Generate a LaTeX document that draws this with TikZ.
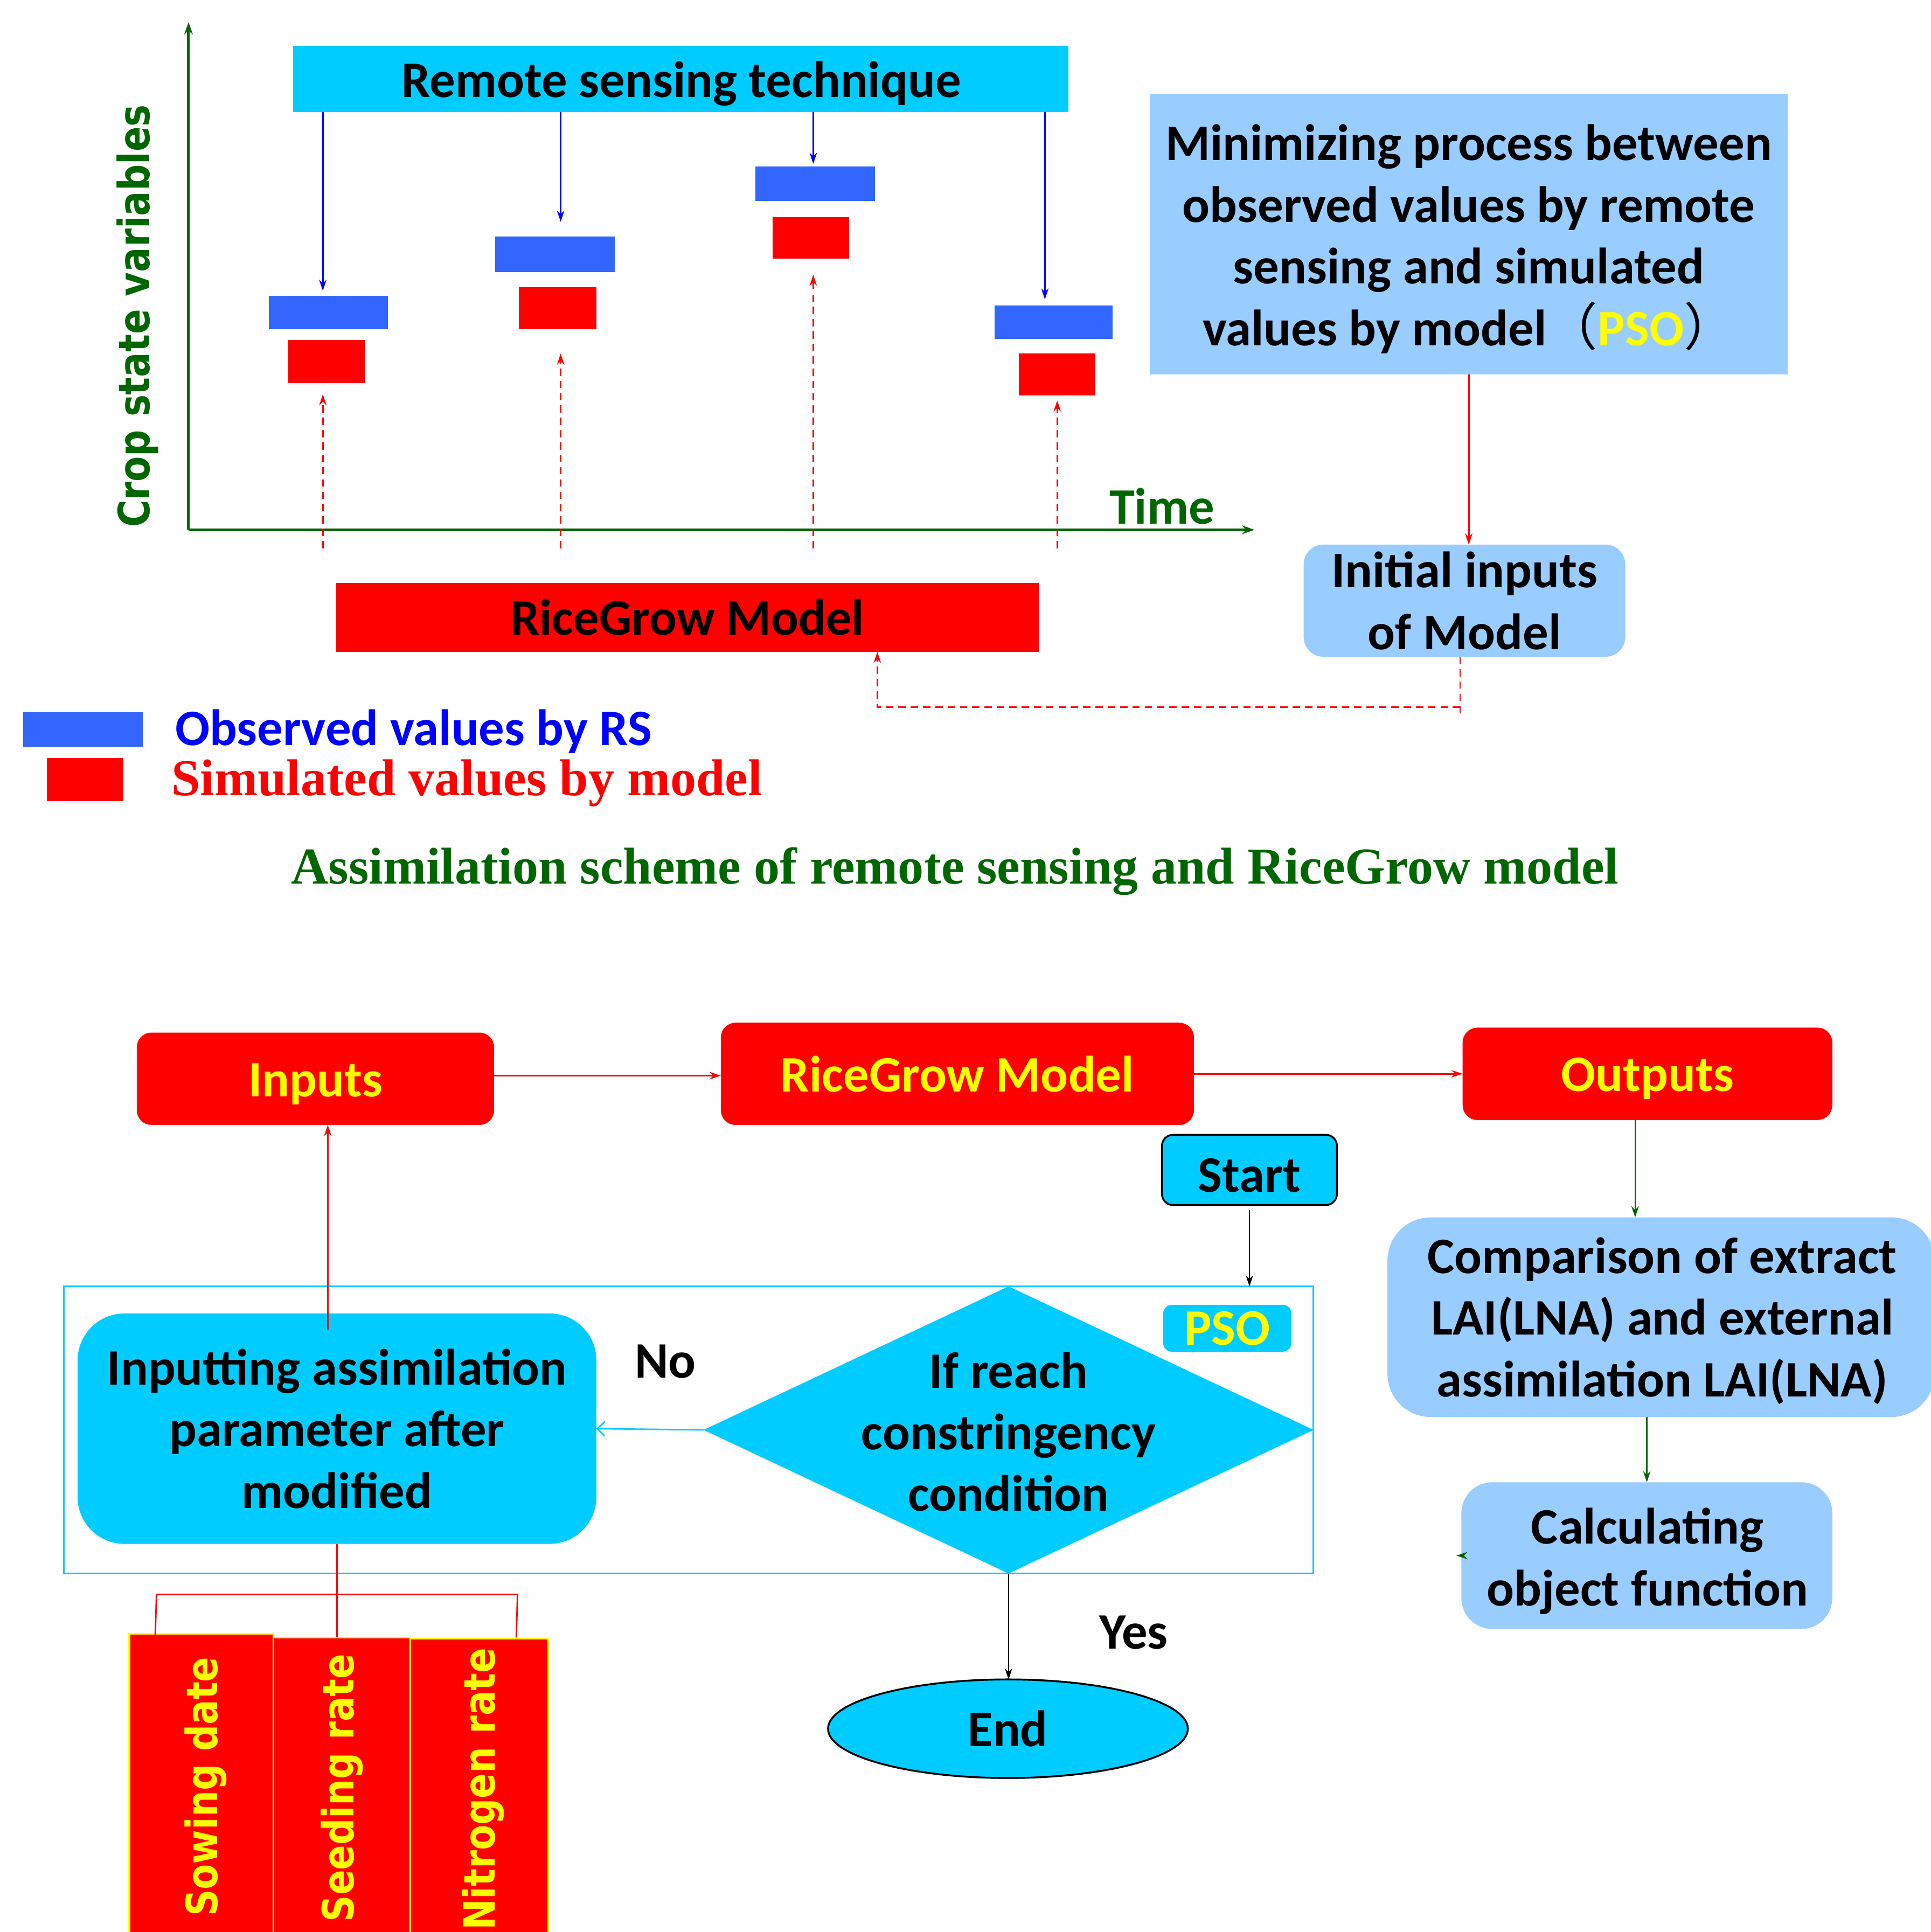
\documentclass[tikz,border=0pt]{standalone}
\usepackage{fontspec}
\setmainfont{Carlito}
\newfontfamily\dvfont{DejaVu Sans}[FakeStretch=0.86]
\newfontfamily\tmsfont{Liberation Serif}
\newfontfamily\cjkfont{Noto Sans CJK SC}
\usetikzlibrary{arrows.meta,shapes.geometric,calc}
\definecolor{cyanA}{RGB}{0,204,255}
\definecolor{lblue}{RGB}{153,204,255}
\definecolor{obsblue}{RGB}{51,102,255}
\definecolor{dgreen}{RGB}{0,102,0}
\definecolor{ylw}{RGB}{255,255,0}
\begin{document}
\begin{tikzpicture}[x=1pt,y=-1pt,
  cal/.style={font=\fontsize{41.5}{50}\selectfont\bfseries},
  bare/.style={inner sep=0pt,outer sep=0pt},
  txt/.style={cal,align=center},
  obs/.style={bare,fill=obsblue},
  sim/.style={bare,fill=red},
  lbbox/.style={bare,fill=lblue,cal,align=center},
  redbox/.style={bare,fill=red,rounded corners=12pt,cal,text=ylw},
  cybox/.style={bare,fill=cyanA,cal,align=center},
  arr/.style={-{Stealth[length=9pt,width=6pt]}},
  conn/.style={line width=1.2pt},
  dashconn/.style={line width=1.2pt,dash pattern=on 6pt off 4pt},
  axisline/.style={dgreen,line width=2.2pt,-{Stealth[length=10pt,width=7pt]}},
  dvtext/.style={rotate=90,font=\dvfont\fontsize{35}{40}\selectfont\bfseries},
  vlabel/.style={dvtext,text=ylw},
  parambox/.style={bare,fill=red,draw=ylw,line width=1.5pt},
  tmstext/.style={font=\tmsfont\fontsize{42}{50}\selectfont\bfseries}
]
\clip (0,0) rectangle (1567,1568);
\fill[white] (0,0) rectangle (1567,1568);

% ---------- top: axes ----------
\coordinate (O) at (153,430);
\coordinate (ytop) at (153,18);
\coordinate (xend) at (1018,430);
\draw[axisline] (O) -- (ytop);
\draw[axisline] (O) -- (xend);
\node[dvtext,text=dgreen] (ylab) at (111.5,256.5) {Crop state variables};
\node[cal,text=dgreen] (time) at (943,411) {Time};

\node[bare,fill=cyanA,minimum width=629pt,minimum height=54pt] (rs) at (552.5,64) {};
\node[txt] (rst) at (553,68) {Remote sensing technique};

% observed (blue) and simulated (red) rectangles
\node[obs,minimum width=97pt,minimum height=27pt] (b1) at (266.5,253.5) {};
\node[obs,minimum width=97pt,minimum height=29pt] (b2) at (450.5,206.5) {};
\node[obs,minimum width=97pt,minimum height=28pt] (b3) at (661.5,149) {};
\node[obs,minimum width=96pt,minimum height=27pt] (b4) at (855,261.5) {};
\node[sim,minimum width=62pt,minimum height=35pt] (r1) at (265,293.5) {};
\node[sim,minimum width=63pt,minimum height=34pt] (r2) at (452.5,250) {};
\node[sim,minimum width=62pt,minimum height=34pt] (r3) at (658,193) {};
\node[sim,minimum width=62pt,minimum height=34pt] (r4) at (858,304) {};

\coordinate (t1) at (262,0);
\coordinate (t2) at (455,0);
\coordinate (t3) at (660,0);
\coordinate (t4) at (848,0);
\draw[blue,conn,arr,shorten >=4pt] (rs.south -| t1) -- (b1.north -| t1);
\draw[blue,conn,arr,shorten >=12pt] (rs.south -| t2) -- (b2.north -| t2);
\draw[blue,conn,arr,shorten >=2pt] (rs.south -| t3) -- (b3.north -| t3);
\draw[blue,conn,arr,shorten >=5pt] (rs.south -| t4) -- (b4.north -| t4);

\coordinate (d1) at (262,445);
\coordinate (d2) at (455,445);
\coordinate (d3) at (660,445);
\coordinate (d4) at (858,445);
\draw[red,dashconn,arr,shorten >=9pt] (d1) -- (r1.south -| d1);
\draw[red,dashconn,arr,shorten >=20pt] (d2) -- (r2.south -| d2);
\draw[red,dashconn,arr,shorten >=13pt] (d3) -- (r3.south -| d3);
\draw[red,dashconn,arr,shorten >=4pt] (d4) -- (r4.south -| d4);

% minimizing box and initial inputs
\node[bare,fill=lblue,minimum width=518pt,minimum height=228pt] (mini) at (1192,190) {};
\node[txt] (minit) at (1192,194)
  {Minimizing process between\\observed values by remote\\sensing and simulated\\values by model{\cjkfont\mdseries （}{\color{ylw}PSO}{\cjkfont\mdseries ）}};
\node[lbbox,rounded corners=16pt,minimum width=261pt,minimum height=91pt] (init) at (1188.5,487.5) {Initial inputs\\of Model};
\draw[red,conn,arr] (mini.south) -- (mini.south |- init.north);

\node[bare,fill=red,cal,minimum width=570pt,minimum height=56pt] (rgtop) at (558,501) {RiceGrow Model};

\coordinate (fb1) at (1185,582);
\coordinate (fbc) at (1185,574);
\coordinate (fbl) at (712,574);
\draw[red,dashconn] (init.south -| fb1) -- (fb1);
\draw[red,dashconn,arr] (fbc) -- (fbl) -- (rgtop.south -| fbl);

% legend and title
\node[obs,minimum width=97pt,minimum height=28pt] (legb) at (67.5,592) {};
\node[sim,minimum width=62pt,minimum height=35pt] (legr) at (69,632.5) {};
\node[cal,text=blue,anchor=west,inner sep=0pt,text height=29pt,text depth=5pt] (legbt) at (142,593) {Observed values by RS};
\node[tmstext,text=red,anchor=west,inner sep=0pt,text height=28.5pt,text depth=5pt] (legrt) at (139,634) {Simulated values by model};
\node[tmstext,text=dgreen] (title) at (775,707) {Assimilation scheme of remote sensing and RiceGrow model};

% ---------- bottom flowchart ----------
\node[redbox,minimum width=290pt,minimum height=75pt] (inputs) at (256,875.5) {};
\node[txt,text=ylw] (inputst) at (256,880) {Inputs};
\node[redbox,minimum width=384pt,minimum height=83pt] (rgm) at (777,871.5) {RiceGrow Model};
\node[redbox,minimum width=300pt,minimum height=75pt] (outputs) at (1337,871.5) {};
\node[txt,text=ylw] (outputst) at (1337,875.5) {Outputs};
\coordinate (ly) at (0,873);
\draw[red,conn,arr] (inputs.east |- ly) -- (rgm.west |- ly);
\draw[red,conn,arr] (rgm.east) -- (outputs.west);

\node[bare,fill=cyanA,draw=black,line width=1.5pt,rounded corners=9pt,minimum width=142pt,minimum height=57pt] (start) at (1014,949.5) {};
\node[txt] (startt) at (1014,954) {Start};
\node[bare,draw=cyanA,line width=1.3pt,minimum width=1014pt,minimum height=233pt] (frame) at (559,1160.5) {};
\draw[black,conn,arr,shorten <=4pt] (start.south) -- (start.south |- frame.north);

\node[bare,diamond,fill=cyanA,minimum width=495pt,minimum height=233pt] (dia) at (818.5,1160.5) {};
\node[txt] (diat) at (818.5,1162) {If reach\\constringency\\condition};
\node[cybox,rounded corners=7pt,minimum width=104pt,minimum height=38pt,text=ylw] (pso) at (996,1078) {PSO};
\node[cybox,rounded corners=38pt,minimum width=421pt,minimum height=187pt] (inp) at (273.5,1159.5) {Inputting assimilation\\parameter after\\modified};
\draw[cyanA,conn,-{Straight Barb[length=6pt,width=12pt]}] (dia.west) -- (inp.east);
\node[cal] (no) at (540,1105) {No};
\coordinate (upx) at (266,1079);
\draw[red,conn,arr] (upx) -- (upx |- inputs.south);

\node[bare,ellipse,fill=cyanA,draw=black,line width=1.5pt,minimum width=292pt,minimum height=80pt,cal] (endn) at (818,1403) {End};
\draw[black,conn,arr] (dia.south) -- (dia.south |- endn.north);
\node[cal] (yes) at (920,1325) {Yes};

% parameter boxes
\node[parambox,minimum width=117pt,minimum height=284pt] (sow) at (163.5,1468) {};
\node[parambox,minimum width=111pt,minimum height=281pt] (seed) at (277.5,1469.5) {};
\node[parambox,minimum width=112pt,minimum height=280pt] (nit) at (389,1470) {};
\node[vlabel] (sowt) at (167,1450) {Sowing date};
\node[vlabel] (seedt) at (277.5,1451) {Seeding rate};
\node[vlabel] (nitt) at (392,1452) {Nitrogen rate};
\draw[red,conn] (inp.south) -- (inp.south |- seed.north);
\coordinate (bla) at (126,1327);
\coordinate (blb) at (127,1294);
\coordinate (brb) at (420,1294);
\coordinate (bra) at (419,1329);
\draw[red,conn] (bla) -- (blb) -- (brb) -- (bra);

% right column
\node[bare,fill=lblue,rounded corners=35pt,minimum width=444pt,minimum height=162pt] (comp) at (1348,1069) {};
\node[txt] (compt) at (1349,1072) {Comparison of extract\\LAI(LNA) and external\\assimilation LAI(LNA)};
\node[bare,fill=lblue,rounded corners=25pt,minimum width=301pt,minimum height=119pt] (calc) at (1336.5,1262.5) {};
\node[txt] (calct) at (1337,1267) {Calculating\\object function};
\coordinate (ox) at (1327,0);
\draw[dgreen,conn,arr] (outputs.south -| ox) -- (comp.north -| ox);
\draw[dgreen,conn,arr] (calc.north |- comp.south) -- (calc.north);
\draw[dgreen,conn,arr] (calc.west) -- ++(-4,0);
\end{tikzpicture}
\end{document}
